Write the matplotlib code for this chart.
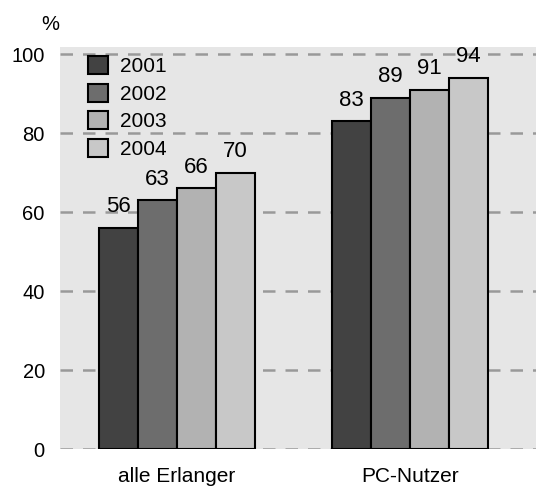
import matplotlib
matplotlib.use("Agg")
import matplotlib.pyplot as plt
from matplotlib.patches import Patch
import numpy as np

categories = ["alle Erlanger", "PC-Nutzer"]
years = ["2001", "2002", "2003", "2004"]
values = {
    "2001": [56, 83],
    "2002": [63, 89],
    "2003": [66, 91],
    "2004": [70, 94],
}
colors = ["#424242", "#6d6d6d", "#b2b2b2", "#c8c8c8"]
yticks = [0, 20, 40, 60, 80, 100]

plt.rcParams['font.family'] = ['Liberation Sans', 'DejaVu Sans']

fig = plt.figure(figsize=(5.36, 4.88), dpi=100)
ax = fig.add_axes([0.112, 0.0799, 0.888, 0.8238])
ax.set_facecolor("#e6e6e6")

x = np.arange(len(categories))
w = 0.167
for i, y in enumerate(years):
    pos = x + (i - 1.5) * w
    ax.bar(pos, values[y], width=w, color=colors[i], edgecolor="black",
           linewidth=1.5, zorder=3, label=y)
    for p, v in zip(pos, values[y]):
        ax.text(p, v + 3.9, str(v), ha="center", va="baseline", fontsize=16, zorder=4)

ax.set_xlim(-0.5, 1.54)
ax.set_ylim(0, 101.8)
ax.set_yticks(yticks)
ax.set_yticklabels([str(t) for t in yticks], fontsize=14.5)
ax.set_xticks(x)
ax.set_xticklabels(categories, fontsize=15)
ax.tick_params(axis="y", length=0, pad=11)
ax.tick_params(axis="x", length=0, pad=13)
for s in ax.spines.values():
    s.set_visible(False)
ax.yaxis.grid(True, linestyle=(0, (5, 4)), color="#999999", linewidth=1.8, zorder=1)
ax.set_axisbelow(True)

handles = [Patch(facecolor=colors[i], edgecolor="black", linewidth=1.5, label=years[i]) for i in range(4)]
ax.legend(handles=handles, loc="upper left", bbox_to_anchor=(0.059, 0.977), frameon=False,
          fontsize=15, handlelength=0.95, handleheight=0.95, labelspacing=0.35,
          handletextpad=0.6, borderpad=0, borderaxespad=0)

fig.text(0.0933, 0.9385, "%", fontsize=14.5, ha="center", va="baseline")

fig.savefig("out.png", dpi=100)
